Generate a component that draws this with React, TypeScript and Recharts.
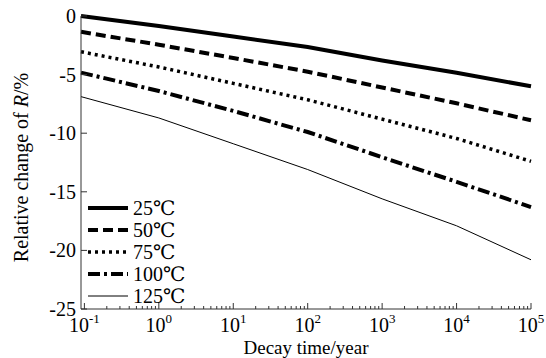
import { LineChart, Line, XAxis, YAxis, Legend } from "recharts";

// decay time (year) and relative change of R (%)
const decayYears = [0.09, 1, 10, 100, 1000, 10000, 100000];
const change25 = [0, -0.85, -1.75, -2.65, -3.8, -4.85, -6.0];
const change50 = [-1.35, -2.45, -3.58, -4.75, -6.1, -7.45, -8.9];
const change75 = [-3.05, -4.35, -5.75, -7.15, -8.8, -10.45, -12.4];
const change100 = [-4.83, -6.4, -8.1, -9.9, -12.05, -14.15, -16.3];
const change125 = [-6.88, -8.7, -10.9, -13.1, -15.6, -17.9, -20.8];

const seriesNames = ["25℃", "50℃", "75℃", "100℃", "125℃"];
const seriesKeys = ["c25", "c50", "c75", "c100", "c125"];

const xMajorTicks = [0.1, 1, 10, 100, 1000, 10000, 100000];
const xTickExponents = ["-1", "0", "1", "2", "3", "4", "5"];
const minorSteps = [2, 3, 4, 5, 6, 7, 8, 9];
const yTicks = [-25, -20, -15, -10, -5, 0];
const yTickLabels = ["-25", "-20", "-15", "-10", "-5", "0"];

const xMinorTicks = xMajorTicks.slice(0, -1).flatMap((d) => minorSteps.map((m) => d * m));
const xAllTicks = [...xMajorTicks, ...xMinorTicks].sort((a, b) => a - b);

const data = decayYears.map((t, i) => ({
    t,
    c25: change25[i],
    c50: change50[i],
    c75: change75[i],
    c100: change100[i],
    c125: change125[i],
}));

const lineStyles = [
    {width: 4, dash: undefined},
    {width: 4, dash: "10 5"},
    {width: 3.5, dash: "3 4"},
    {width: 4, dash: "12 4 3 4"},
    {width: 1, dash: undefined},
];

const FONT = "'Liberation Serif', 'DejaVu Serif', Tinos, 'Times New Roman', Times, serif";
const AXIS = "#333";
const X_DOMAIN = [0.09, 100000];

function BottomTick({x, y, payload}: any) {
    const i = xMajorTicks.indexOf(payload.value);
    const major = i >= 0;
    return (
        <g>
            <line x1={x} x2={x} y1={y} y2={y - (major ? 6 : 3)} stroke={AXIS} />
            {major && (
                <text x={x} y={y + 23} textAnchor="middle" fill="#000" style={{fontFamily: FONT, fontSize: 20}}>
                    10
                    <tspan dy={-9} style={{fontSize: 13}}>
                        {xTickExponents[i]}
                    </tspan>
                </text>
            )}
        </g>
    );
}

function TopTick({x, y, payload}: any) {
    const major = xMajorTicks.includes(payload.value);
    return <line x1={x} x2={x} y1={y} y2={y + (major ? 6 : 3)} stroke={AXIS} />;
}

function LeftTick({x, y, payload}: any) {
    const i = yTicks.indexOf(payload.value);
    return (
        <g>
            <line x1={x} x2={x + 6} y1={y} y2={y} stroke={AXIS} />
            <text x={x - 5} y={y} dy="0.35em" textAnchor="end" fill="#000" style={{fontFamily: FONT, fontSize: 20}}>
                {yTickLabels[i]}
            </text>
        </g>
    );
}

function RightTick({x, y}: any) {
    return <line x1={x} x2={x - 6} y1={y} y2={y} stroke={AXIS} />;
}

function YTitle({viewBox}: any) {
    const cx = viewBox.x + 10;
    const cy = viewBox.y + viewBox.height / 2 + 5;
    return (
        <text
            x={cx}
            y={cy}
            transform={`rotate(-90, ${cx}, ${cy})`}
            textAnchor="middle"
            dominantBaseline="central"
            fill="#000"
            style={{fontFamily: FONT, fontSize: 20}}
        >
            Relative change of <tspan fontStyle="italic">R</tspan>/%
        </text>
    );
}

function XTitle({viewBox}: any) {
    return (
        <text
            x={viewBox.x + viewBox.width / 2}
            y={viewBox.y + 45}
            textAnchor="middle"
            fill="#000"
            style={{fontFamily: FONT, fontSize: 19}}
        >
            Decay time/year
        </text>
    );
}

function LegendBox() {
    return (
        <div style={{fontFamily: FONT, fontSize: 20, lineHeight: "22px", color: "#000"}}>
            {seriesNames.map((name, i) => (
                <div key={name} style={{display: "flex", alignItems: "center", height: 22}}>
                    <svg width={45} height={22}>
                        <line
                            x1={0}
                            x2={40}
                            y1={11}
                            y2={11}
                            stroke="#000"
                            strokeWidth={lineStyles[i].width}
                            strokeDasharray={lineStyles[i].dash}
                        />
                    </svg>
                    <span>{name}</span>
                </div>
            ))}
        </div>
    );
}

export default function App() {
    return (
        <div style={{position: "absolute", left: 0, top: 0, width: 546, height: 358, background: "#fff", fontFamily: FONT}}>
            <LineChart width={546} height={358} data={data} margin={{top: 16, right: 15, left: 11, bottom: 9}}>
                <XAxis
                    dataKey="t"
                    type="number"
                    scale="log"
                    domain={X_DOMAIN}
                    ticks={xAllTicks}
                    interval={0}
                    height={40}
                    tickSize={0}
                    tickMargin={0}
                    tickLine={false}
                    axisLine={{stroke: AXIS}}
                    tick={(p: any) => <BottomTick {...p} />}
                    label={(p: any) => <XTitle {...p} />}
                />
                <XAxis
                    xAxisId="top"
                    orientation="top"
                    dataKey="t"
                    type="number"
                    scale="log"
                    domain={X_DOMAIN}
                    ticks={xAllTicks}
                    interval={0}
                    height={0}
                    tickSize={0}
                    tickMargin={0}
                    tickLine={false}
                    axisLine={{stroke: AXIS}}
                    tick={(p: any) => <TopTick {...p} />}
                />
                <YAxis
                    type="number"
                    domain={[-25, 0]}
                    ticks={yTicks}
                    interval={0}
                    width={70}
                    tickSize={0}
                    tickMargin={0}
                    tickLine={false}
                    axisLine={{stroke: AXIS}}
                    tick={(p: any) => <LeftTick {...p} />}
                    label={(p: any) => <YTitle {...p} />}
                />
                <YAxis
                    yAxisId="right"
                    orientation="right"
                    type="number"
                    domain={[-25, 0]}
                    ticks={yTicks}
                    interval={0}
                    width={0}
                    tickSize={0}
                    tickMargin={0}
                    tickLine={false}
                    axisLine={{stroke: AXIS}}
                    tick={(p: any) => <RightTick {...p} />}
                />
                <Legend
                    layout="vertical"
                    align="center"
                    verticalAlign="middle"
                    content={() => <LegendBox />}
                    wrapperStyle={{left: 88, top: 197, width: "auto", height: "auto"}}
                />
                {seriesKeys.map((key, i) => (
                    <Line
                        key={key}
                        dataKey={key}
                        name={seriesNames[i]}
                        type="linear"
                        stroke="#000"
                        strokeWidth={lineStyles[i].width}
                        strokeDasharray={lineStyles[i].dash}
                        dot={false}
                        activeDot={false}
                        isAnimationActive={false}
                    />
                ))}
            </LineChart>
        </div>
    );
}
